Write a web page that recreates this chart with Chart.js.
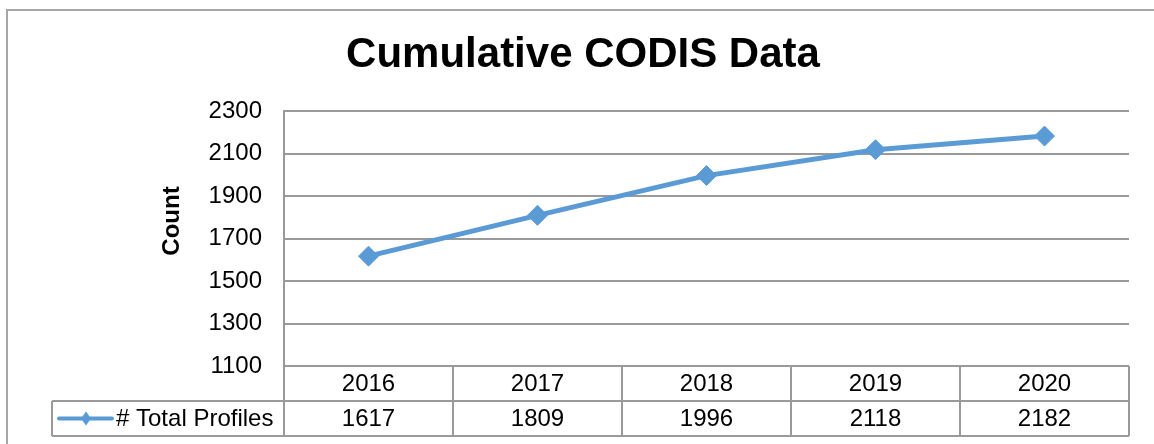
<!DOCTYPE html>
<html>
<head>
<meta charset="utf-8">
<script src="https://cdn.jsdelivr.net/npm/chart.js@4/dist/chart.umd.min.js"></script>
<style>
  html, body { margin: 0; padding: 0; background: #fff; }
  #wrap { position: relative; width: 1154px; height: 444px; }
</style>
</head>
<body>
<div id="wrap"><canvas id="chart"></canvas></div>
<script>
// Cumulative CODIS data — line chart with an Excel-style data table underneath.

const years = ["2016", "2017", "2018", "2019", "2020"];
const totalProfiles = [1617, 1809, 1996, 2118, 2182];
const seriesName = "# Total Profiles";
const chartTitle = "Cumulative CODIS Data";
const yTitle = "Count";
const yMin = 1100, yMax = 2300, yStep = 200;

const FONT = '"Liberation Sans", Arial, sans-serif';
const BLUE = "#5b9bd5";
const GRID = "#9a9a9a";

// draws the frame, title, axis title and the data table below the plot
const tablePlugin = {
  id: "dataTable",
  afterDraw(chart) {
    const { ctx, chartArea: a, scales: { x } } = chart;
    const colW = (a.right - a.left) / years.length;
    const row1 = a.bottom, row2 = a.bottom + 35, row3 = a.bottom + 70;
    const keyLeft = 52;

    ctx.save();
    // outer frame (only top and left visible)
    ctx.strokeStyle = "#a6a6a6";
    ctx.lineWidth = 2;
    ctx.beginPath();
    ctx.moveTo(7, 460); ctx.lineTo(7, 10); ctx.lineTo(1160, 10);
    ctx.stroke();

    // title
    ctx.fillStyle = "#000";
    ctx.textAlign = "center";
    ctx.textBaseline = "middle";
    ctx.font = "bold 42px " + FONT;
    ctx.fillText(chartTitle, 583, 55);

    // y axis title
    ctx.save();
    ctx.translate(172, 221);
    ctx.rotate(-Math.PI / 2);
    ctx.font = "bold 24px " + FONT;
    ctx.fillText(yTitle, 0, 0);
    ctx.restore();

    // table grid
    ctx.strokeStyle = GRID;
    ctx.lineWidth = 2;
    ctx.beginPath();
    ctx.moveTo(a.left, row1); ctx.lineTo(a.right, row1);
    ctx.moveTo(keyLeft, row2); ctx.lineTo(a.right, row2);
    ctx.moveTo(keyLeft, row3); ctx.lineTo(a.right, row3);
    ctx.moveTo(keyLeft, row2); ctx.lineTo(keyLeft, row3);
    for (let i = 0; i <= years.length; i++) {
      const cx = i < years.length ? x.getPixelForValue(i) - colW / 2 : a.right;
      ctx.moveTo(cx, row1); ctx.lineTo(cx, row3);
    }
    ctx.stroke();

    // cell text
    ctx.font = "24px " + FONT;
    ctx.fillStyle = "#000";
    years.forEach((yr, i) => {
      const cx = x.getPixelForValue(i);
      ctx.fillText(yr, cx, (row1 + row2) / 2 + 1);
      ctx.fillText(String(totalProfiles[i]), cx, (row2 + row3) / 2 + 1);
    });

    // legend key
    const ky = (row2 + row3) / 2;
    ctx.strokeStyle = BLUE;
    ctx.lineWidth = 4;
    ctx.lineCap = "round";
    ctx.beginPath();
    ctx.moveTo(59, ky); ctx.lineTo(112, ky);
    ctx.stroke();
    ctx.fillStyle = BLUE;
    ctx.beginPath();
    ctx.moveTo(86, ky - 7); ctx.lineTo(91, ky); ctx.lineTo(86, ky + 7); ctx.lineTo(81, ky);
    ctx.closePath();
    ctx.fill();
    ctx.fillStyle = "#000";
    ctx.textAlign = "left";
    ctx.fillText(seriesName, 116, ky + 1);
    ctx.restore();
  },
};

new Chart(document.getElementById("chart"), {
  type: "line",
  data: {
    labels: years,
    datasets: [{
      label: seriesName,
      data: totalProfiles,
      borderColor: BLUE,
      backgroundColor: BLUE,
      borderWidth: 5,
      tension: 0,
      pointStyle: "rectRot",
      pointRadius: 10,
      pointHoverRadius: 10,
      pointBorderWidth: 1,
      pointBackgroundColor: BLUE,
      pointBorderColor: BLUE,
    }],
  },
  options: {
    responsive: true,
    maintainAspectRatio: false,
    animation: false,
    layout: { padding: { top: 111, right: 25, bottom: 78, left: 0 } },
    plugins: {
      legend: { display: false },
      title: { display: false },
      tooltip: { enabled: false },
    },
    scales: {
      x: {
        display: false,
        offset: true,
      },
      y: {
        min: yMin,
        max: yMax,
        afterFit: (s) => { s.width = 284; },
        ticks: {
          stepSize: yStep,
          color: "#000",
          padding: 22,
          font: { family: FONT, size: 24 },
          callback: (v) => String(v),
        },
        grid: { color: GRID, lineWidth: 2, drawTicks: false },
        border: { display: true, color: GRID, width: 2 },
      },
    },
  },
  plugins: [tablePlugin],
});
</script>
</body>
</html>
